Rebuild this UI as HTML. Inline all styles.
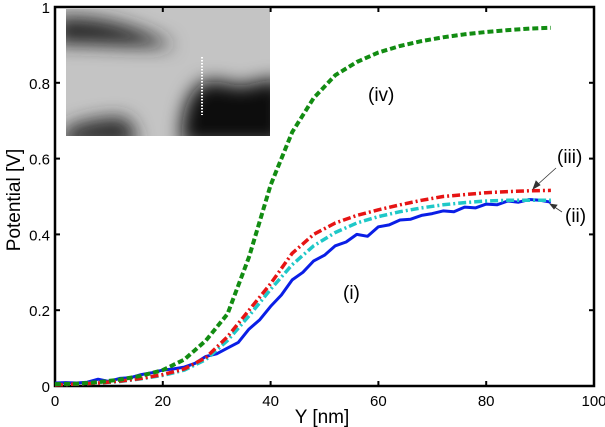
<!DOCTYPE html>
<html><head><meta charset="utf-8"><style>
html,body{margin:0;padding:0;background:#fff;}
svg{display:block;font-family:"Liberation Sans",sans-serif;}
</style></head><body>
<svg id="chart" width="605" height="427">
<defs>
<filter id="blur" x="-20%" y="-20%" width="140%" height="140%"><feGaussianBlur stdDeviation="9"/></filter>
<clipPath id="insetClip"><rect x="66" y="9" width="204" height="127"/></clipPath>
</defs>
<g id="inset" clip-path="url(#insetClip)">
<rect x="66" y="9" width="204" height="127" fill="#c4c4c4"/>
<g filter="url(#blur)">
<path d="M55,18 C100,14 140,28 175,46 C140,48 100,44 55,44 Z" fill="#262626"/>
<path d="M182,140 C180,112 190,88 205,82 C225,78 235,90 250,84 C265,80 275,78 285,82 L285,145 L182,145 Z" fill="#080808"/>
<path d="M55,145 L70,126 C90,120 110,116 125,118 C133,124 136,132 137,145 Z" fill="#2a2a2a"/>
</g>
<line x1="202" y1="57" x2="202" y2="115" stroke="#fff" stroke-width="2" stroke-dasharray="1.5,1.5"/>
</g>
<g id="axes"></g>
<g id="series"></g>
<text x="368" y="101" font-size="19">(iv)</text>
<text x="557" y="163" font-size="19">(iii)</text>
<text x="565" y="222" font-size="19">(ii)</text>
<text x="343" y="299" font-size="19">(i)</text>
<g stroke="#333" stroke-width="0.8" fill="#333">
<line x1="556" y1="168" x2="536" y2="186"/><path d="M533,189 L536,181 L540,185 Z"/>
<line x1="562" y1="212" x2="553" y2="206"/><path d="M550,204 L557,205 L554,209 Z"/>
</g>
<text x="322" y="423" font-size="19" text-anchor="middle">Y [nm]</text>
<text transform="translate(20,200) rotate(-90)" font-size="19" text-anchor="middle">Potential [V]</text>
</svg>
<script>
const xs=[0,4,8,12,16,20,24,28,32,36,40,44,48,52,56,60,64,68,72,76,80,84,88,92];
const seriesIV=[.005,.006,.01,.017,.027,.042,.07,.12,.19,.34,.53,.67,.76,.82,.855,.88,.897,.91,.92,.928,.934,.939,.943,.945];
const seriesIII=[.003,.005,.008,.013,.02,.03,.045,.075,.13,.2,.27,.35,.4,.43,.45,.465,.478,.49,.5,.505,.51,.513,.515,.516];
const seriesII=[.003,.005,.008,.012,.019,.028,.042,.07,.12,.185,.255,.32,.37,.405,.43,.447,.46,.47,.478,.484,.488,.49,.49,.49];
const xsI=[0,2,4,6,8,10,12,14,16,18,20,22,24,26,28,30,32,34,36,38,40,42,44,46,48,50,52,54,56,58,60,62,64,66,68,70,72,74,76,78,80,82,84,86,88,90,92];
const seriesI=[.008,.009,.008,.01,.018,.012,.02,.022,.03,.035,.042,.045,.05,.06,.078,.085,.1,.115,.15,.175,.21,.24,.28,.3,.33,.345,.37,.38,.4,.395,.42,.425,.438,.44,.45,.455,.462,.46,.472,.47,.48,.478,.488,.485,.492,.49,.485];
const xTicks=[0,20,40,60,80,100];
const yTicks=[0,0.2,0.4,0.6,0.8,1];
const yTickLabels=["0","0.2","0.4","0.6","0.8","1"];
const X0=55,X1=594,Y0=386,Y1=7;
const sx=v=>X0+(X1-X0)*v/100, sy=v=>Y0-(Y0-Y1)*v;
const NS="http://www.w3.org/2000/svg";
const ax=document.getElementById('axes'), sg=document.getElementById('series');
function mk(tag,attrs,parent){const e=document.createElementNS(NS,tag);for(const k in attrs)e.setAttribute(k,attrs[k]);parent.appendChild(e);return e;}
const box=mk('rect',{x:X0,y:Y1,width:X1-X0,height:Y0-Y1,fill:'none',stroke:'#000','stroke-width':2.5},ax);


xTicks.forEach(t=>{
 mk('line',{x1:sx(t),x2:sx(t),y1:Y0,y2:Y0-5,stroke:'#000','stroke-width':2},ax);
 mk('line',{x1:sx(t),x2:sx(t),y1:Y1,y2:Y1+5,stroke:'#000','stroke-width':2},ax);
 const tx=mk('text',{x:sx(t),y:Y0+20,'font-size':15,'text-anchor':'middle'},ax);tx.textContent=t;
 
 
});
yTicks.forEach((t,i)=>{
 mk('line',{x1:X0,x2:X0+5,y1:sy(t),y2:sy(t),stroke:'#000','stroke-width':2},ax);
 mk('line',{x1:X1,x2:X1-5,y1:sy(t),y2:sy(t),stroke:'#000','stroke-width':2},ax);
 const tx=mk('text',{x:X0-5,y:sy(t)+6,'font-size':15,'text-anchor':'end'},ax);tx.textContent=yTickLabels[i];
 
 
});
function line(xv,data,color,dash,name,w){
 const d=data.map((v,i)=>(i?'L':'M')+sx(xv[i]).toFixed(1)+','+sy(v).toFixed(1)).join(' ');
 const p=mk('path',{d:d,fill:'none',stroke:color,'stroke-width':w,'stroke-dasharray':dash,'stroke-linejoin':'round'},sg);
 
 
}
line(xsI,seriesI,'#0a1ee6','none','series-i-line',3);
line(xs,seriesII,'#1ec8c8','8,3,2,3','series-ii-line',3.5);
line(xs,seriesIII,'#e61414','8,3,2,3','series-iii-line',3.5);
line(xs,seriesIV,'#128c12','6,3','series-iv-line',4);
</script>
</body></html>
